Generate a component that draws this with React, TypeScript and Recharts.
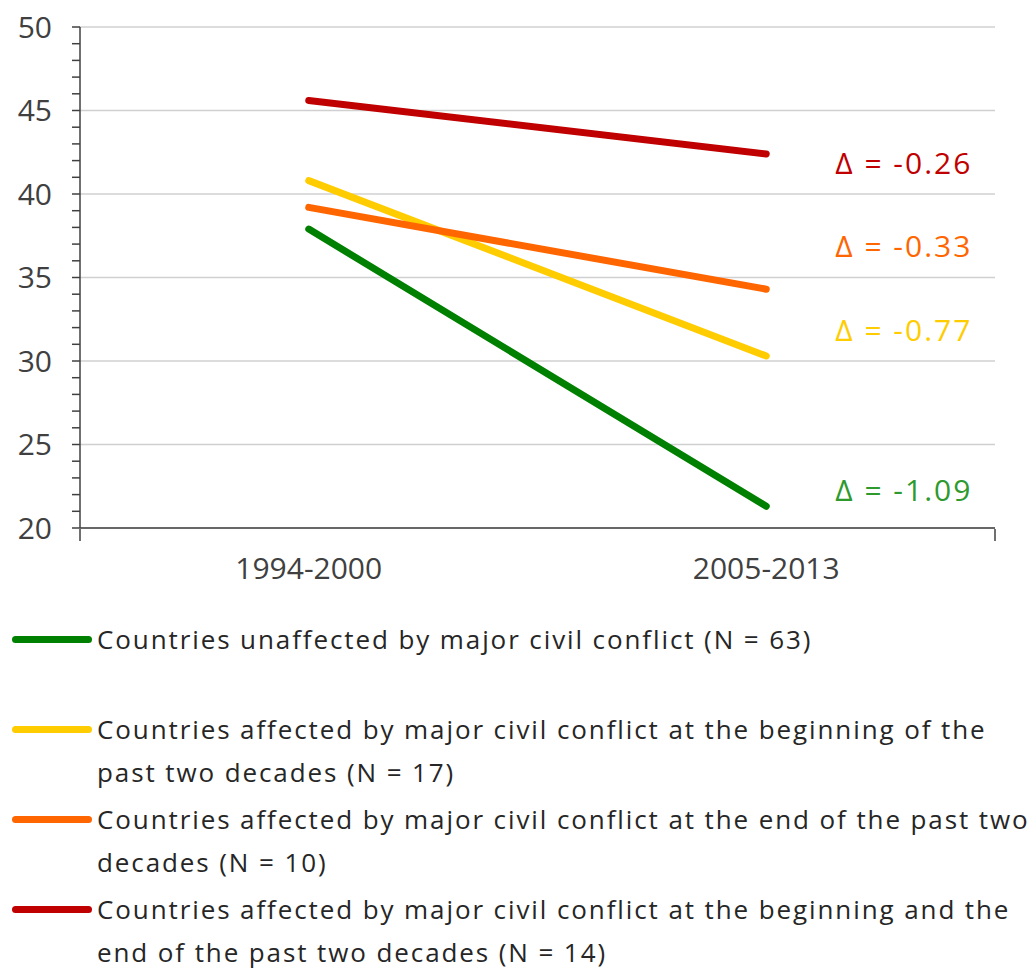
import React from "react";
import {
  LineChart,
  Line,
  XAxis,
  YAxis,
  CartesianGrid,
  ReferenceDot,
} from "recharts";

const periods = ["1994-2000", "2005-2013"];
const unaffected = [37.9, 21.3];
const affectedAtBeginning = [40.8, 30.3];
const affectedAtEnd = [39.2, 34.3];
const affectedAtBoth = [45.6, 42.4];

const seriesNames = [
  "Countries unaffected by major civil conflict (N = 63)",
  "Countries affected by major civil conflict at the beginning of the past two decades (N = 17)",
  "Countries affected by major civil conflict at the end of the past two decades (N = 10)",
  "Countries affected by major civil conflict at the beginning and the end of the past two decades (N = 14)",
];
const seriesKeys = ["unaffected", "beginning", "end", "both"];
const seriesColors = ["#008000", "#FFCC00", "#FF6600", "#C00000"];

const deltaLabels = ["Δ = -1.09", "Δ = -0.77", "Δ = -0.33", "Δ = -0.26"];
const deltaLabelY = [22.3, 31.9, 36.9, 41.9];
const deltaColors = ["#2E9A2E", "#FFCC00", "#FF6600", "#C00000"];

const yTicks = [
  20, 21, 22, 23, 24, 25, 26, 27, 28, 29, 30, 31, 32, 33, 34, 35, 36, 37, 38,
  39, 40, 41, 42, 43, 44, 45, 46, 47, 48, 49, 50,
];
const gridValues = [20, 25, 30, 35, 40, 45, 50];
const edgeTicks = [0, 1, 2];

const data = periods.map((period, i) => ({
  period,
  unaffected: unaffected[i],
  beginning: affectedAtBeginning[i],
  end: affectedAtEnd[i],
  both: affectedAtBoth[i],
}));

const FONT = "'Open Sans', sans-serif";
const AXIS = "#404040";

function DeltaLabel(props: any) {
  const { viewBox, value, fill } = props;
  return (
    <text
      x={viewBox.x + 69}
      y={viewBox.y}
      fill={fill}
      fontSize={30}
      letterSpacing={2}
      fontFamily={FONT}
      dominantBaseline="central"
      textAnchor="start"
    >
      {value}
    </text>
  );
}

export default function App() {
  return (
    <div style={{ position: "absolute", left: 0, top: 0, width: 1034, background: "#fff" }}>
      <LineChart
        width={1034}
        height={610}
        data={data}
        margin={{ top: 27, right: 39, left: 0, bottom: 80 }}
      >
        <CartesianGrid
          vertical={false}
          horizontalValues={gridValues}
          stroke="#D0D0D0"
          strokeWidth={1.5}
        />
        <XAxis
          xAxisId="edges"
          type="number"
          domain={[0, 2]}
          ticks={edgeTicks}
          tick={() => <g />}
          tickSize={12}
          height={1}
          axisLine={false}
          tickLine={{ stroke: AXIS, strokeWidth: 1.5 }}
        />
        <XAxis
          dataKey="period"
          scale="band"
          height={1}
          tickLine={false}
          tickSize={0}
          tickMargin={30}
          axisLine={{ stroke: AXIS, strokeWidth: 1.5 }}
          tick={{ fill: AXIS, fontSize: 30, fontFamily: FONT }}
        />
        <YAxis
          domain={[20, 50]}
          ticks={yTicks}
          interval={0}
          width={80}
          tickSize={8}
          tickMargin={20}
          tickFormatter={(v: number) => (v % 5 === 0 ? String(v) : "")}
          axisLine={{ stroke: AXIS, strokeWidth: 1.5 }}
          tickLine={{ stroke: AXIS, strokeWidth: 1.5 }}
          tick={{ fill: AXIS, fontSize: 30, fontFamily: FONT }}
        />
        {seriesKeys.map((key, i) => (
          <Line
            key={key}
            dataKey={key}
            name={seriesNames[i]}
            stroke={seriesColors[i]}
            strokeWidth={7}
            strokeLinecap="round"
            dot={false}
            activeDot={false}
            isAnimationActive={false}
          />
        ))}
        {deltaLabels.map((label, i) => (
          <ReferenceDot
            key={label}
            x={periods[1]}
            y={deltaLabelY[i]}
            r={0}
            stroke="none"
            fill="none"
            label={<DeltaLabel value={label} fill={deltaColors[i]} />}
          />
        ))}
      </LineChart>
      <div
        style={{
          paddingTop: 8,
          fontFamily: FONT,
          fontSize: 26,
          letterSpacing: 1.9,
          color: "#262626",
        }}
      >
        {seriesNames.map((name, i) => (
          <div key={name} style={{ display: "flex", height: 90, lineHeight: "43px" }}>
            <div style={{ width: 97, flex: "none", display: "flex", alignItems: "flex-start" }}>
              <div
                style={{
                  marginTop: 18,
                  marginLeft: 12,
                  width: 80,
                  height: 7,
                  borderRadius: 4,
                  background: seriesColors[i],
                }}
              />
            </div>
            <div style={{ width: 937 }}>{name}</div>
          </div>
        ))}
      </div>
    </div>
  );
}
